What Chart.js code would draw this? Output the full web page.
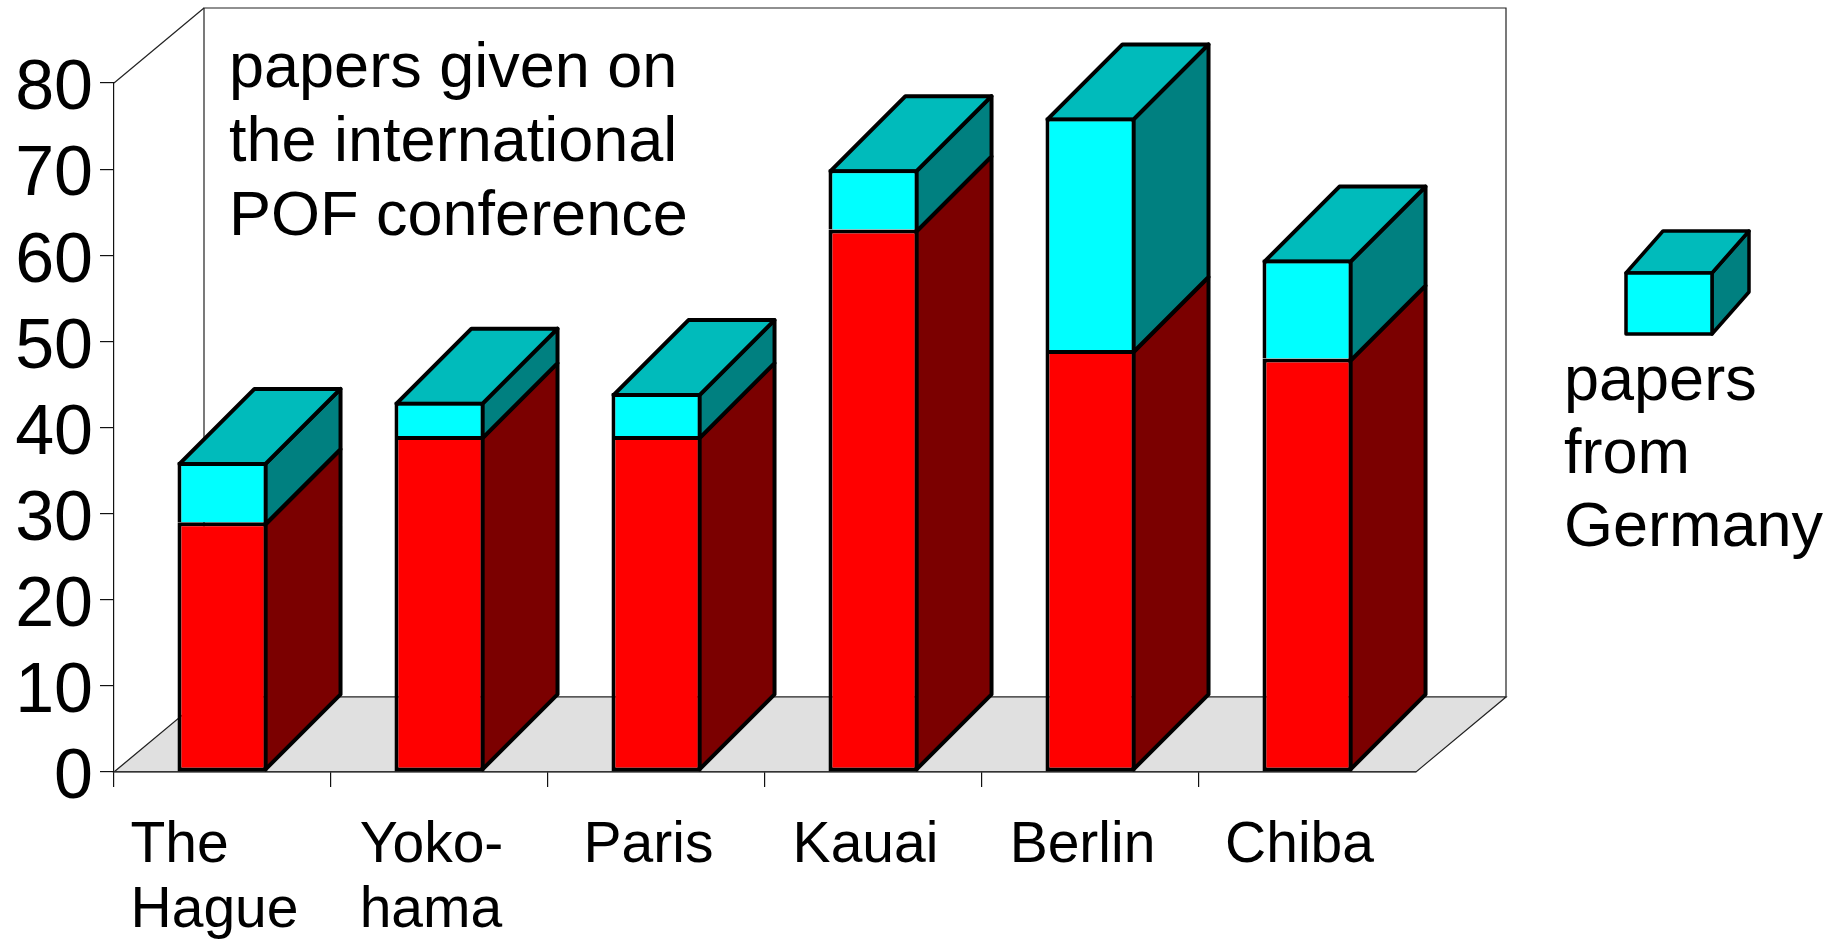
<!DOCTYPE html>
<html>
<head>
<meta charset="utf-8">
<title>POF conference papers</title>
<style>
  html, body { margin: 0; padding: 0; background: #ffffff; }
  canvas { display: block; }
</style>
<script src="https://cdn.jsdelivr.net/npm/chart.js@4/dist/chart.umd.min.js"></script>
</head>
<body>
<canvas id="chart" width="1838" height="941"></canvas>
<script>
// ---- data ----
const categories = [['The', 'Hague'], ['Yoko-', 'hama'], ['Paris'], ['Kauai'], ['Berlin'], ['Chiba']];
const otherPapers = [29, 39, 39, 63, 49, 48];       // red part of each column
const germanPapers = [7, 4, 5, 7, 27, 11.5];        // cyan part: papers from Germany
const yTicks = [0, 10, 20, 30, 40, 50, 60, 70, 80];
const titleLines = ['papers given on', 'the international', 'POF conference'];
const legendLines = ['papers', 'from', 'Germany'];

// ---- styles ----
const FONT = '"Liberation Sans", Arial, Helvetica, sans-serif';
const RED_FRONT = '#ff0000', RED_SIDE = '#7b0000';
const CYAN_FRONT = '#00ffff', CYAN_SIDE = '#008080', CYAN_TOP = '#00bbbb';
const EDGE = 4;            // outline width of the columns
const DEPTH = 75;          // oblique depth of a column (px right / px up)
const WALL_DX = 90, WALL_DY = 75;   // depth of the back wall

function face(ctx, pts, fill, lw) {
  ctx.beginPath();
  ctx.moveTo(pts[0][0], pts[0][1]);
  for (let k = 1; k < pts.length; k++) ctx.lineTo(pts[k][0], pts[k][1]);
  ctx.closePath();
  ctx.fillStyle = fill;
  ctx.fill();
  ctx.lineWidth = lw;
  ctx.strokeStyle = '#000';
  ctx.stroke();
}

const box3d = {
  id: 'box3d',
  // back wall, left wall edge and floor, under the axes
  beforeDraw(chart) {
    const { ctx, chartArea: a } = chart;
    ctx.save();
    ctx.lineWidth = 1.2;
    ctx.strokeStyle = '#222';
    ctx.fillStyle = '#ffffff';
    ctx.beginPath();
    ctx.rect(a.left + WALL_DX, a.top - WALL_DY, a.right - a.left, a.bottom - a.top);
    ctx.fill();
    ctx.stroke();
    ctx.beginPath();
    ctx.moveTo(a.left, a.top);
    ctx.lineTo(a.left + WALL_DX, a.top - WALL_DY);
    ctx.stroke();
    ctx.fillStyle = '#e0e0e0';
    ctx.beginPath();
    ctx.moveTo(a.left, a.bottom);
    ctx.lineTo(a.right, a.bottom);
    ctx.lineTo(a.right + WALL_DX, a.bottom - WALL_DY);
    ctx.lineTo(a.left + WALL_DX, a.bottom - WALL_DY);
    ctx.closePath();
    ctx.fill();
    ctx.stroke();
    ctx.restore();
  },
  // side and top faces of every stacked column; the front faces are the bars themselves
  beforeDatasetsDraw(chart) {
    const ctx = chart.ctx;
    const metas = chart.data.datasets.map((_, d) => chart.getDatasetMeta(d));
    const sides = [RED_SIDE, CYAN_SIDE];
    const h = EDGE / 2;
    ctx.save();
    ctx.lineJoin = 'round';
    for (let i = 0; i < chart.data.labels.length; i++) {
      metas.forEach((meta, d) => {
        const el = meta.data[i];
        if (!el) return;
        const p = el.getProps(['x', 'y', 'base', 'width'], true);
        const xl = p.x - p.width / 2 + h;
        const xr = p.x + p.width / 2 - h;
        const yt = p.y + h;
        const yb = d === 0 ? p.base - h : p.base + h;
        face(ctx, [[xr, yt], [xr + DEPTH, yt - DEPTH], [xr + DEPTH, yb - DEPTH], [xr, yb]], sides[d], EDGE);
        if (d === metas.length - 1) {
          face(ctx, [[xl, yt], [xl + DEPTH, yt - DEPTH], [xr + DEPTH, yt - DEPTH], [xr, yt]], CYAN_TOP, EDGE);
        }
      });
    }
    ctx.restore();
  },
  // title block, category labels and legend
  afterDraw(chart) {
    const ctx = chart.ctx;
    const xs = chart.scales.x;
    ctx.save();
    ctx.fillStyle = '#000';
    ctx.textAlign = 'left';
    ctx.textBaseline = 'alphabetic';

    ctx.font = '63px ' + FONT;
    titleLines.forEach((t, k) => ctx.fillText(t, 229, 87 + k * 74));

    ctx.font = '57px ' + FONT;
    categories.forEach((lines, i) => {
      const w = Math.max(...lines.map(l => ctx.measureText(l).width));
      const left = xs.getPixelForValue(i) - 8 - w / 2;
      lines.forEach((l, k) => ctx.fillText(l, left, 862 + k * 65));
    });

    // legend cube
    ctx.lineJoin = 'round';
    const fx0 = 1626, fx1 = 1712, fy0 = 273, fy1 = 334, dx = 37, dy = 42;
    face(ctx, [[fx1, fy0], [fx1 + dx, fy0 - dy], [fx1 + dx, fy1 - dy], [fx1, fy1]], CYAN_SIDE, 3.5);
    face(ctx, [[fx0, fy0], [fx0 + dx, fy0 - dy], [fx1 + dx, fy0 - dy], [fx1, fy0]], CYAN_TOP, 3.5);
    face(ctx, [[fx0, fy0], [fx1, fy0], [fx1, fy1], [fx0, fy1]], CYAN_FRONT, 3.5);

    ctx.fillStyle = '#000';
    ctx.font = '63px ' + FONT;
    legendLines.forEach((t, k) => ctx.fillText(t, 1564, 400 + k * 73));
    ctx.restore();
  }
};

new Chart(document.getElementById('chart'), {
  type: 'bar',
  data: {
    labels: categories.map(c => c.join(' ')),
    datasets: [
      {
        label: 'papers from other countries',
        data: otherPapers,
        backgroundColor: RED_FRONT,
        borderColor: '#000',
        borderWidth: EDGE,
        borderSkipped: false
      },
      {
        label: legendLines.join(' '),
        data: germanPapers,
        backgroundColor: CYAN_FRONT,
        borderColor: '#000',
        borderWidth: EDGE,
        borderSkipped: 'start'
      }
    ]
  },
  options: {
    responsive: false,
    animation: false,
    events: [],
    layout: { padding: { top: 83, right: 422, bottom: 0, left: 0 } },
    datasets: { bar: { categoryPercentage: 1, barPercentage: 0.415 } },
    plugins: {
      legend: { display: false },
      tooltip: { enabled: false },
      title: { display: false }
    },
    scales: {
      x: {
        stacked: true,
        offset: true,
        grid: {
          offset: true,
          drawOnChartArea: false,
          drawTicks: true,
          tickLength: 15,
          lineWidth: 1.2,
          color: ctx => (ctx.type === 'tick' ? '#111' : 'rgba(0,0,0,0)')
        },
        border: { display: true, color: '#333', width: 1.2 },
        ticks: { display: false },
        afterFit: s => { s.height = 169; }
      },
      y: {
        stacked: true,
        min: 0,
        max: 80,
        afterBuildTicks: s => { s.ticks = yTicks.map(v => ({ value: v })); },
        grid: { drawOnChartArea: false, drawTicks: true, tickLength: 14, lineWidth: 1.2, color: '#111' },
        border: { display: true, color: '#111', width: 1.2 },
        ticks: {
          autoSkip: false,
          font: { family: FONT, size: 70, lineHeight: 1 },
          color: '#000',
          padding: 7,
          labelOffset: 7
        },
        afterFit: s => { s.width = 114; }
      }
    }
  },
  plugins: [box3d]
});
</script>
</body>
</html>
